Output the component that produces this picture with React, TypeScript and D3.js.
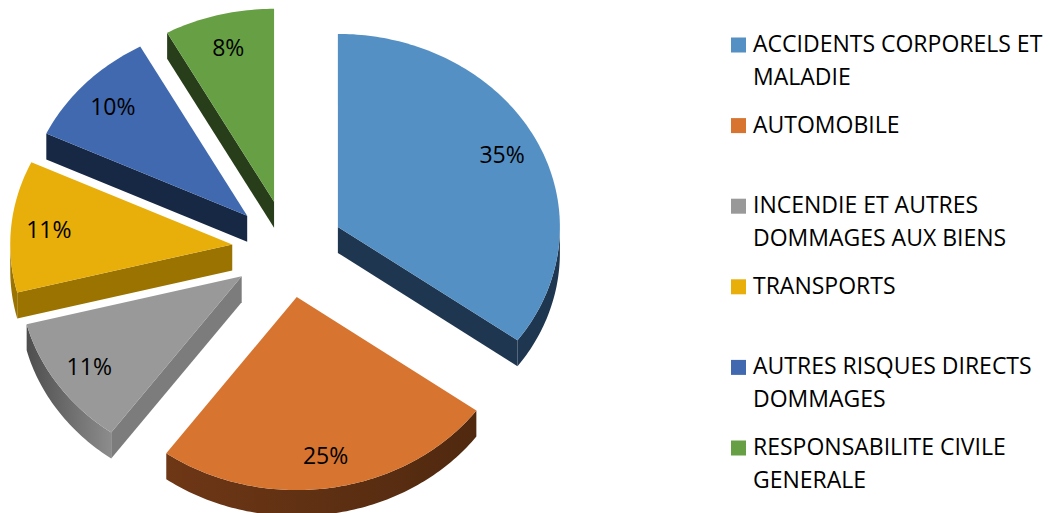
import React from "react";
import * as d3 from "d3";

const categories = [
  "ACCIDENTS CORPORELS ET MALADIE",
  "AUTOMOBILE",
  "INCENDIE ET AUTRES DOMMAGES AUX BIENS",
  "TRANSPORTS",
  "AUTRES RISQUES DIRECTS DOMMAGES",
  "RESPONSABILITE CIVILE GENERALE",
];
const legendLines = [
  ["ACCIDENTS CORPORELS ET", "MALADIE"],
  ["AUTOMOBILE"],
  ["INCENDIE ET AUTRES", "DOMMAGES AUX BIENS"],
  ["TRANSPORTS"],
  ["AUTRES RISQUES DIRECTS", "DOMMAGES"],
  ["RESPONSABILITE CIVILE", "GENERALE"],
];
const values = [35, 25, 11, 11, 10, 8];
const topColors = ["#5590C4", "#D67430", "#999999", "#E8AE0A", "#4169B0", "#67A044"];
const faceColors = ["#1F3650", "#5A2D12", "#7C7C7C", "#9A7300", "#172845", "#283E1A"];
const wallLeft = ["#1F3650", "#6E3716", "#4E4E4E", "#9A7300", "#172845", "#283E1A"];
const wallRight = ["#1F3650", "#50290F", "#8C8C8C", "#9A7300", "#172845", "#283E1A"];

const W = 1050;
const H = 513;
const CX = 288;
const CY = 249;
const RX = 222;
const RY = 193;
const K = RY / RX;
const EXPLODE = 56;
const DEPTH = 26;
const LABEL_F = 0.83;
const FONT = "'Open Sans', sans-serif";

export default function App() {
  const pie = d3
    .pie<number>()
    .sort(null)
    .startAngle(0)
    .endAngle(2 * Math.PI)
    .value((d) => d);
  const arcs = pie(values);
  const total = d3.sum(values);

  const slices = arcs.map((a, i) => {
    const mid = (a.startAngle + a.endAngle) / 2;
    const ax = CX + EXPLODE * Math.sin(mid);
    const ay = CY - EXPLODE * Math.cos(mid) * K;
    const pt = (t: number, dy = 0): [number, number] => [
      ax + RX * Math.sin(t),
      ay - RY * Math.cos(t) + dy,
    ];
    const sample = (t0: number, t1: number, dy = 0) => {
      const n = Math.max(2, Math.ceil(((t1 - t0) * 180) / Math.PI));
      return d3.range(n + 1).map((j) => pt(t0 + ((t1 - t0) * j) / n, dy));
    };
    const line = d3.line();
    const topPts: [number, number][] = [[ax, ay], ...sample(a.startAngle, a.endAngle)];
    const top = line(topPts) + "Z";
    let wall: string | null = null;
    const w0 = Math.max(a.startAngle, Math.PI / 2);
    const w1 = Math.min(a.endAngle, (3 * Math.PI) / 2);
    let wallBox = [0, 0];
    if (w1 > w0) {
      const upper = sample(w0, w1);
      const lower = sample(w0, w1, DEPTH).reverse();
      wall = line([...upper, ...lower]) + "Z";
      const xs = upper.map((p) => p[0]);
      wallBox = [d3.min(xs)!, d3.max(xs)!];
    }
    const faces: string[] = [];
    if (Math.sin(a.startAngle) < -1e-6) {
      const p = pt(a.startAngle);
      faces.push(line([[ax, ay], p, [p[0], p[1] + DEPTH], [ax, ay + DEPTH]]) + "Z");
    }
    if (Math.sin(a.endAngle) > 1e-6) {
      const p = pt(a.endAngle);
      faces.push(line([[ax, ay], p, [p[0], p[1] + DEPTH], [ax, ay + DEPTH]]) + "Z");
    }
    const lab = [ax + LABEL_F * RX * Math.sin(mid), ay - LABEL_F * RY * Math.cos(mid)];
    const pct = d3.format(".0%")(a.value / total);
    return { i, ay, top, wall, wallBox, faces, lab, pct };
  });

  const order = [...slices].sort((p, q) => p.ay - q.ay);

  return (
    <svg
      width={W}
      height={H}
      style={{ position: "absolute", left: 0, top: 0, background: "#fff" }}
    >
      <defs>
        {slices.map((s) => (
          <linearGradient
            key={s.i}
            id={`wall${s.i}`}
            gradientUnits="userSpaceOnUse"
            x1={s.wallBox[0]}
            x2={s.wallBox[1]}
            y1={0}
            y2={0}
          >
            <stop offset="0" stopColor={wallLeft[s.i]} />
            <stop offset="1" stopColor={wallRight[s.i]} />
          </linearGradient>
        ))}
      </defs>
      {order.map((s) => (
        <g key={s.i}>
          {s.faces.map((f, j) => (
            <path key={j} d={f} fill={faceColors[s.i]} />
          ))}
          {s.wall && <path d={s.wall} fill={`url(#wall${s.i})`} />}
          <path d={s.top} fill={topColors[s.i]} />
        </g>
      ))}
      {slices.map((s) => (
        <text
          key={s.i}
          x={s.lab[0]}
          y={s.lab[1]}
          textAnchor="middle"
          dominantBaseline="central"
          fontFamily={FONT}
          fontSize={23}
          fill="#000"
        >
          {s.pct}
        </text>
      ))}
      <g>
        {categories.map((c, i) => {
          const base = 52 + i * 80.6;
          return (
            <g key={c}>
              <rect x={731} y={base - 14.5} width={15} height={15} fill={topColors[i]} />
              {legendLines[i].map((ln, j) => (
                <text
                  key={j}
                  x={753}
                  y={base + j * 33}
                  fontFamily={FONT}
                  fontSize={23}
                  fill="#000"
                >
                  {ln}
                </text>
              ))}
            </g>
          );
        })}
      </g>
    </svg>
  );
}
